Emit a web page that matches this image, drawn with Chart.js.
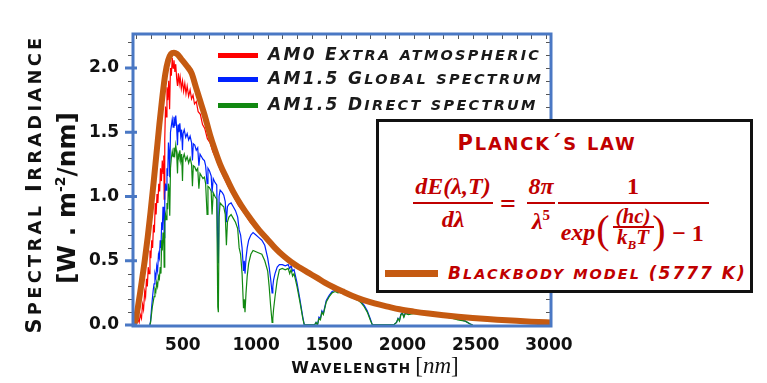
<!DOCTYPE html>
<html><head><meta charset="utf-8">
<script src="https://cdn.jsdelivr.net/npm/chart.js@4.4.1/dist/chart.umd.min.js"></script>
<style>
html,body{margin:0;padding:0;background:#fff;}
#wrap{position:relative;width:767px;height:383px;overflow:hidden;background:#fff;}
#c{position:absolute;left:0;top:0;}
.ov{position:absolute;white-space:nowrap;}
.c{position:absolute;white-space:nowrap;transform:translate(-50%,-50%);}
.rot{position:absolute;white-space:nowrap;transform:translate(-50%,-50%) rotate(-90deg);}
.sc{font-family:"DejaVu Sans";font-weight:bold;}
.m{font-family:"Liberation Serif";font-weight:bold;font-style:italic;color:#c00000;font-size:24px;line-height:1;}
.bar{position:absolute;background:#c00000;}
#box{position:absolute;left:376px;top:119px;width:377px;height:174px;box-sizing:border-box;border:3px solid #111;background:#fff;}
</style></head><body>
<div id="wrap">
<canvas id="c" width="767" height="383"></canvas>

<div class="rot sc" data-r="0.85" style="left:34px;top:184px;font-size:21px;letter-spacing:3.3px;color:#111;">Spectral Irradiance</div>
<div class="rot" style="left:66px;top:198px;font-family:'DejaVu Sans';font-weight:bold;font-size:25px;color:#111;">[W . m<sup style="font-size:14px;">-2</sup>/nm]</div>
<div class="c" style="left:375px;top:366px;color:#111;"><span class="sc" data-r="0.85" style="font-size:16px;letter-spacing:1.2px;">Wavelength</span> <span style="font-family:'Liberation Serif';font-size:23px;">[<i>nm</i>]</span></div>

<div id="legend"></div>

<div id="box"></div>
<div class="c sc" data-r="0.85" style="left:547px;top:143px;font-size:21px;letter-spacing:1.8px;color:#c00000;">Planck´s law</div>
<div class="c m" style="left:453px;top:186px;">dE(λ,T)</div>
<div class="bar" style="left:413px;top:202px;width:80px;height:2px;"></div>
<div class="c m" style="left:453px;top:219px;">dλ</div>
<div class="c m" style="left:508px;top:204px;font-style:normal;font-size:28px;">=</div>
<div class="c m" style="left:541px;top:186px;">8π</div>
<div class="bar" style="left:527px;top:202px;width:28px;height:2px;"></div>
<div class="c m" style="left:541px;top:220px;">λ<sup style="font-size:15px;font-style:normal;">5</sup></div>
<div class="c m" style="left:633px;top:186px;font-style:normal;">1</div>
<div class="bar" style="left:558px;top:202px;width:151px;height:2px;"></div>
<div class="c m" style="left:578px;top:232px;">exp</div>
<div class="c m" style="left:603px;top:230px;font-size:40px;font-weight:normal;font-style:normal;">(</div>
<div class="c m" style="left:633px;top:216px;font-size:21px;">(hc)</div>
<div class="bar" style="left:613px;top:226px;width:41px;height:2px;"></div>
<div class="c m" style="left:633px;top:239px;font-size:21px;">k<sub style="font-size:13px;">B</sub>T</div>
<div class="c m" style="left:659px;top:230px;font-size:40px;font-weight:normal;font-style:normal;">)</div>
<div class="c m" style="left:688px;top:233px;font-style:normal;">− 1</div>
<div id="bbLegend"></div>
</div>

<script>
// ---- data ----
const xTickValues = [500, 1000, 1500, 2000, 2500, 3000];
const yTickValues = [0, 0.5, 1.0, 1.5, 2.0];
const seriesLabels = ['AM0 Extra atmospheric', 'AM1.5 Global spectrum', 'AM1.5 Direct spectrum', 'Blackbody model (5777 K)'];

const am0Wl = [185,195,205,215,222,230,238,245,252,260,266,272,278,284,290,296,302,308,314,320,326,332,338,344,350,356,362,368,374,380,386,390,393,397,402,407,412,418,424,430,436,442,448,454,460,466,472,478,484,490,496,502,510,518,526,534,542,550,560,570,580,590,600,612,625,640,655,670,688,706,725,745,775,800,830,863,900,940,980,1020,1060,1096,1150,1205,1260,1321,1380,1438,1500,1547,1610,1676,1750,1830,1920,2000,2100,2200,2300,2400,2500,2600,2700,2800,2900,3000,3050];
const am0Irr = [0.00,0.02,0.01,0.04,0.02,0.08,0.05,0.16,0.12,0.26,0.22,0.36,0.30,0.45,0.40,0.58,0.52,0.66,0.60,0.78,0.72,0.95,0.86,1.02,0.95,1.10,1.04,1.22,1.12,1.28,1.18,1.32,0.98,1.45,1.70,1.62,1.85,1.75,1.90,1.68,2.00,1.94,2.08,2.00,2.06,1.97,2.03,1.92,1.86,1.96,1.88,1.93,1.84,1.90,1.82,1.88,1.80,1.86,1.78,1.83,1.76,1.79,1.72,1.74,1.66,1.64,1.56,1.53,1.45,1.42,1.35,1.30,1.21,1.15,1.08,1.01,0.93,0.87,0.80,0.75,0.70,0.655,0.585,0.525,0.475,0.43,0.39,0.352,0.315,0.285,0.252,0.22,0.19,0.162,0.138,0.118,0.100,0.086,0.073,0.062,0.052,0.044,0.037,0.031,0.025,0.020,0.018];

const am15Wl = [295,300,306,312,318,324,330,336,342,348,354,360,366,371,376,380,385,390,393,397,402,407,412,417,422,427,431,436,442,448,454,460,466,472,478,484,488,494,500,506,512,518,522,530,540,550,560,570,580,586,592,602,612,622,630,638,648,658,668,676,686,692,702,714,720,728,740,752,759,763,768,775,790,800,810,818,825,835,850,865,880,895,905,915,925,935,940,945,952,960,970,985,1000,1020,1040,1060,1080,1100,1110,1120,1130,1135,1140,1150,1165,1180,1200,1220,1240,1250,1260,1270,1280,1300,1320,1340,1350,1420,1430,1440,1450,1460,1470,1480,1500,1520,1540,1560,1580,1600,1620,1640,1660,1680,1700,1720,1740,1760,1780,1800,1815,1960,1980,1990,2000,2010,2020,2030,2040,2060,2100,2150,2200,2250,2300,2350,2400,2450,2480,2500];
const globalIrr = [0,0.03,0.12,0.20,0.27,0.32,0.40,0.37,0.46,0.42,
0.55,0.52,0.66,0.60,0.80,0.74,0.92,0.86,0.68,1.02,
1.10,1.05,1.22,1.16,1.42,1.34,1.15,1.50,1.55,1.60,
1.54,1.62,1.55,1.63,1.54,1.40,1.56,1.50,1.57,1.47,
1.52,1.36,1.49,1.52,1.46,1.49,1.44,1.47,1.42,1.28,
1.41,1.40,1.36,1.38,1.24,1.33,1.31,1.29,1.28,1.24,
1.10,1.22,1.20,1.16,1.03,1.14,1.11,1.09,0.55,0.48,
1.00,1.05,1.03,1.01,0.96,0.80,0.92,0.94,0.95,0.92,
0.89,0.84,0.74,0.70,0.60,0.42,0.50,0.40,0.52,0.60,
0.66,0.70,0.72,0.70,0.68,0.66,0.62,0.52,0.45,0.36,
0.25,0.30,0.35,0.40,0.45,0.47,0.47,0.46,0.47,0.44,
0.46,0.42,0.43,0.33,0.20,0.06,0,0,0.02,0,
0.06,0.05,0.11,0.09,0.19,0.23,0.26,0.27,0.26,0.265,
0.25,0.245,0.23,0.22,0.21,0.20,0.18,0.15,0.11,0.05,
0,0,0.02,0.05,0.035,0.085,0.095,0.065,0.095,0.085,
0.095,0.09,0.085,0.08,0.07,0.06,0.045,0.03,0.01,0];
const directIrr = [0,0.02,0.08,0.14,0.18,0.22,0.28,0.26,0.33,0.30,
0.38,0.36,0.45,0.40,0.66,0.58,0.72,0.68,0.45,0.80,
0.86,0.82,0.95,0.90,1.10,1.05,0.85,1.22,1.30,1.35,
1.31,1.38,1.33,1.40,1.34,1.18,1.33,1.30,1.36,1.28,
1.33,1.12,1.30,1.33,1.28,1.31,1.26,1.30,1.25,1.08,
1.24,1.23,1.20,1.22,1.06,1.18,1.16,1.14,1.15,1.10,
0.86,1.08,1.07,1.04,0.86,1.03,1.00,0.98,0.14,0.10,
0.84,0.95,0.93,0.92,0.86,0.62,0.80,0.84,0.86,0.83,
0.80,0.75,0.60,0.55,0.40,0.13,0.20,0.10,0.25,0.38,
0.48,0.55,0.58,0.57,0.56,0.55,0.50,0.42,0.30,0.15,
0.02,0.05,0.12,0.22,0.35,0.43,0.44,0.43,0.44,0.40,
0.43,0.38,0.40,0.30,0.18,0.05,0,0,0.02,0,
0.05,0.04,0.10,0.08,0.18,0.22,0.25,0.26,0.25,0.255,
0.24,0.235,0.22,0.21,0.20,0.19,0.17,0.14,0.10,0.04,
0,0,0.02,0.05,0.03,0.08,0.09,0.06,0.09,0.08,
0.09,0.085,0.08,0.075,0.065,0.055,0.04,0.03,0.01,0];

const bbWl = [185,200,215,230,245,260,280,300,320,340,360,380,400,420,440,460,480,510,545,580,610,640,670,706,740,775,820,863,920,980,1040,1096,1150,1205,1260,1321,1380,1438,1490,1547,1610,1676,1750,1830,1920,2000,2100,2200,2300,2400,2500,2600,2700,2800,2900,3000,3050];
const bbIrr = [0,0.05,0.15,0.26,0.38,0.50,0.68,0.88,1.10,1.33,1.56,1.77,1.95,2.06,2.11,2.12,2.11,2.07,2.02,1.96,1.85,1.74,1.63,1.48,1.36,1.25,1.14,1.04,0.93,0.83,0.74,0.67,0.60,0.54,0.49,0.445,0.405,0.366,0.33,0.296,0.262,0.228,0.196,0.168,0.143,0.122,0.104,0.089,0.076,0.064,0.054,0.046,0.039,0.032,0.026,0.021,0.019];

const seriesColors = ['#ff0000', '#0022ff', '#118811', '#c55a11'];
const frameColor = '#4a78c4';

function pts(xs, ys) { return xs.map((x, i) => ({ x: x, y: ys[i] })); }

const framePlugin = {
  id: 'frame',
  afterDatasetsDraw(chart) {
    const { ctx, chartArea: a, scales } = chart;
    const x = scales.x, y = scales.y;
    ctx.save();
    ctx.strokeStyle = '#555';
    ctx.lineWidth = 1;
    ctx.beginPath();
    for (let v = 0; v <= 2.25; v += 0.1) {
      const py = Math.round(y.getPixelForValue(v)) + 0.5;
      ctx.moveTo(a.left - 5, py); ctx.lineTo(a.left, py);
      ctx.moveTo(a.right, py); ctx.lineTo(a.right - 5, py);
    }
    for (let v = 200; v <= 3000; v += 100) {
      const px = Math.round(x.getPixelForValue(v)) + 0.5;
      ctx.moveTo(px, a.top); ctx.lineTo(px, a.top + 5);
    }
    ctx.stroke();
    ctx.strokeStyle = frameColor;
    ctx.lineWidth = 3;
    ctx.strokeRect(a.left, a.top, a.right - a.left, a.bottom - a.top);
    ctx.beginPath();
    for (const v of yTickValues) {
      const py = y.getPixelForValue(v);
      ctx.moveTo(a.left - 8, py); ctx.lineTo(a.left + 4, py);
    }
    ctx.stroke();
    ctx.restore();
  }
};

const tickFont = { family: 'DejaVu Sans', weight: 'bold', size: 17 };

const chart = new Chart(document.getElementById('c'), {
  type: 'line',
  data: {
    datasets: [
      { label: seriesLabels[0], data: pts(am0Wl, am0Irr), borderColor: seriesColors[0], borderWidth: 1.2, pointRadius: 0, tension: 0, order: 3 },
      { label: seriesLabels[1], data: pts(am15Wl, globalIrr), borderColor: seriesColors[1], borderWidth: 1.2, pointRadius: 0, tension: 0, order: 2 },
      { label: seriesLabels[2], data: pts(am15Wl, directIrr), borderColor: seriesColors[2], borderWidth: 1.2, pointRadius: 0, tension: 0, order: 1 },
      { label: seriesLabels[3], data: pts(bbWl, bbIrr), borderColor: seriesColors[3], borderWidth: 6, pointRadius: 0, cubicInterpolationMode: 'monotone', order: 0 }
    ]
  },
  options: {
    responsive: false,
    animation: false,
    devicePixelRatio: 1,
    layout: { padding: { left: 0, top: 34, right: 216, bottom: 0 } },
    plugins: { legend: { display: false }, tooltip: { enabled: false } },
    scales: {
      x: {
        type: 'linear', min: 180, max: 3035,
        grid: { display: false, drawTicks: false }, border: { display: false },
        afterBuildTicks: s => { s.ticks = xTickValues.map(v => ({ value: v })); },
        afterFit: s => { s.height = 57; },
        ticks: { font: tickFont, color: '#111', padding: 9, labelOffset: 3, maxRotation: 0, callback: v => String(v) }
      },
      y: {
        type: 'linear', min: -0.008, max: 2.265,
        grid: { display: false, drawTicks: false }, border: { display: false },
        afterBuildTicks: s => { s.ticks = yTickValues.map(v => ({ value: v })); },
        afterFit: s => { s.width = 133; },
        ticks: { font: tickFont, color: '#111', padding: 14, callback: v => Number(v).toFixed(1) }
      }
    }
  },
  plugins: [framePlugin]
});

// HTML legend built from the chart's datasets
const legend = document.getElementById('legend');
const rowY = [55, 79, 105];
chart.data.datasets.slice(0, 3).forEach((ds, i) => {
  const sw = document.createElement('div');
  sw.className = 'ov';
  sw.style.cssText = `left:218px;top:${rowY[i] - 2}px;width:40px;height:5px;background:${ds.borderColor};`;
  legend.appendChild(sw);
  const t = document.createElement('div');
  t.className = 'ov sc';
  t.dataset.r = '0.85';
  t.style.cssText = `left:268px;top:${rowY[i] - 12}px;font-size:17px;line-height:22px;font-style:italic;letter-spacing:2.3px;color:#1a1a1a;`;
  t.textContent = ds.label;
  legend.appendChild(t);
});
const bb = chart.data.datasets[3];
const bbl = document.getElementById('bbLegend');
const bsw = document.createElement('div');
bsw.className = 'ov';
bsw.style.cssText = `left:385px;top:270px;width:53px;height:7px;background:${bb.borderColor};`;
bbl.appendChild(bsw);
const bt = document.createElement('div');
bt.className = 'ov sc';
bt.dataset.r = '0.85';
bt.style.cssText = 'left:448px;top:262px;font-size:17px;line-height:22px;font-style:italic;letter-spacing:2px;color:#c00000;';
bt.textContent = bb.label;
bbl.appendChild(bt);

// small caps: lowercase runs shown as smaller capitals (text itself unchanged)
document.querySelectorAll('.sc').forEach(el => {
  const r = parseFloat(el.dataset.r || '0.85');
  const txt = el.textContent;
  el.textContent = '';
  (txt.match(/[a-z]+|[^a-z]+/g) || []).forEach(run => {
    const s = document.createElement('span');
    s.textContent = run;
    if (/^[a-z]+$/.test(run)) {
      s.style.fontSize = (r * 100) + '%';
      s.style.textTransform = 'uppercase';
    }
    el.appendChild(s);
  });
});
</script>
</body></html>
